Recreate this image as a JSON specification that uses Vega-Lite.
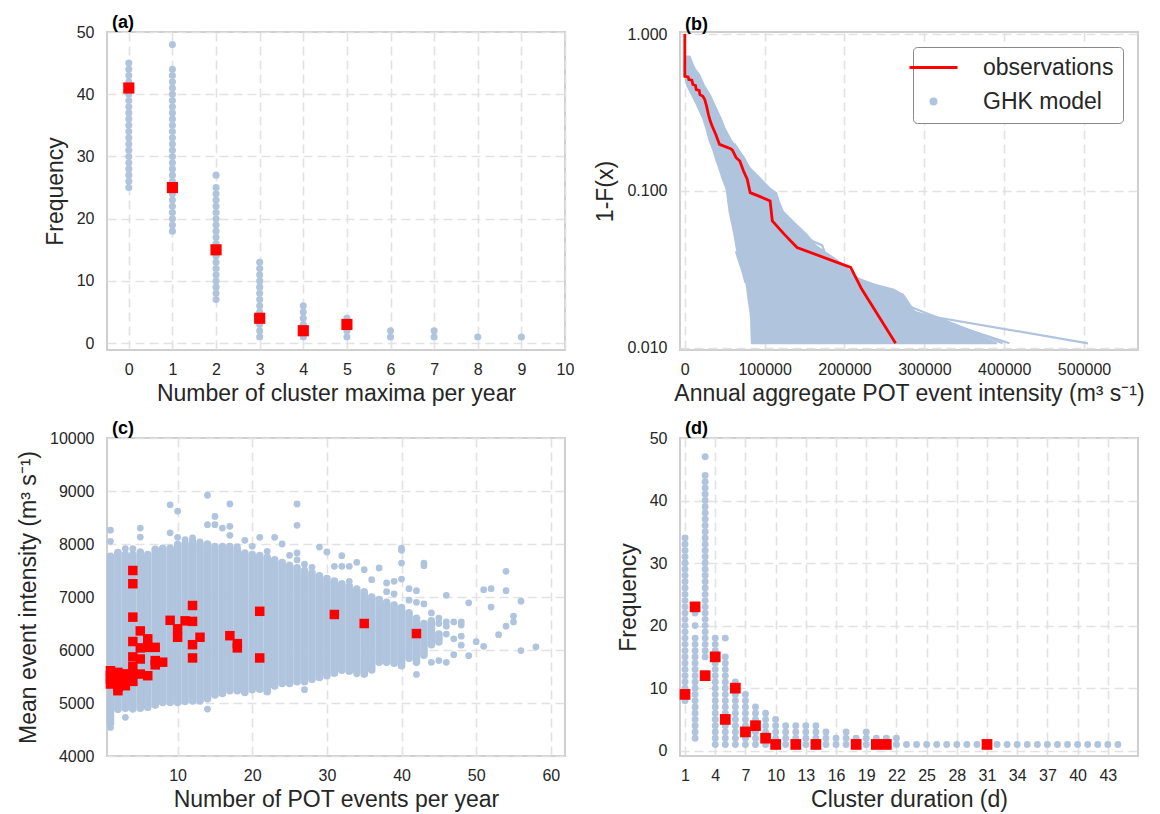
{
"$schema": "https://vega.github.io/schema/vega-lite/v6.json",
"background": "white",
"padding": {"left": 16, "top": 13, "right": 5, "bottom": 5},
"bounds": "flush",
"columns": 2,
"spacing": {"row": 88, "column": 115},
"resolve": {"scale": {"fill": "independent", "stroke": "independent", "shape": "independent"}, "legend": {"fill": "independent", "stroke": "independent", "shape": "independent"}},
"config": {
  "font": "Liberation Sans",
  "view": {"stroke": "#cfcfcf", "strokeWidth": 2},
  "axis": {"grid": true, "gridColor": "#e2e2e2", "gridDash": [9, 5], "gridWidth": 1.6, "domain": false, "ticks": false, "labelFontSize": 16, "labelColor": "#262626", "labelFont": "Liberation Sans", "titleFont": "Liberation Sans", "titleFontSize": 23, "titleFontWeight": "normal", "titleColor": "#262626", "labelFlush": false, "labelOverlap": false},
  "axisX": {"labelPadding": 11, "titlePadding": 5},
  "axisY": {"labelPadding": 13, "titlePadding": 9},
  "title": {"anchor": "start", "frame": "group", "fontSize": 18, "fontWeight": "bold", "color": "#000000", "offset": -8, "dx": 5, "font": "Liberation Sans"},
  "legend": {"orient": "top-right", "offset": 15, "padding": 9, "strokeColor": "#8a8a8a", "fillColor": "#ffffff", "cornerRadius": 4, "labelFontSize": 23, "labelColor": "#262626", "labelFont": "Liberation Sans", "symbolSize": 25, "symbolStrokeWidth": 3, "symbolOpacity": 1, "rowPadding": 10, "labelOffset": 38}
},
"datasets": {
  "a_model": [
    {"x":0,"y":25},{"x":0,"y":26},{"x":0,"y":27},{"x":0,"y":28},{"x":0,"y":29},{"x":0,"y":30},{"x":0,"y":31},{"x":0,"y":32},{"x":0,"y":33},{"x":0,"y":34},{"x":0,"y":35},{"x":0,"y":36},{"x":0,"y":37},{"x":0,"y":38},{"x":0,"y":39},{"x":0,"y":40},{"x":0,"y":41},{"x":0,"y":42},{"x":0,"y":43},{"x":0,"y":44},{"x":0,"y":45},
    {"x":1,"y":18},{"x":1,"y":19},{"x":1,"y":20},{"x":1,"y":21},{"x":1,"y":22},{"x":1,"y":23},{"x":1,"y":24},{"x":1,"y":25},{"x":1,"y":26},{"x":1,"y":27},{"x":1,"y":28},{"x":1,"y":29},{"x":1,"y":30},{"x":1,"y":31},{"x":1,"y":32},{"x":1,"y":33},{"x":1,"y":34},{"x":1,"y":35},{"x":1,"y":36},{"x":1,"y":37},{"x":1,"y":38},{"x":1,"y":39},{"x":1,"y":40},{"x":1,"y":41},{"x":1,"y":42},{"x":1,"y":43},{"x":1,"y":44},{"x":1,"y":48},
    {"x":2,"y":7},{"x":2,"y":8},{"x":2,"y":9},{"x":2,"y":10},{"x":2,"y":11},{"x":2,"y":12},{"x":2,"y":13},{"x":2,"y":14},{"x":2,"y":15},{"x":2,"y":16},{"x":2,"y":17},{"x":2,"y":18},{"x":2,"y":19},{"x":2,"y":20},{"x":2,"y":21},{"x":2,"y":22},{"x":2,"y":23},{"x":2,"y":24},{"x":2,"y":25},{"x":2,"y":27},
    {"x":3,"y":1},{"x":3,"y":2},{"x":3,"y":3},{"x":3,"y":4},{"x":3,"y":5},{"x":3,"y":6},{"x":3,"y":7},{"x":3,"y":8},{"x":3,"y":9},{"x":3,"y":10},{"x":3,"y":11},{"x":3,"y":12},{"x":3,"y":13},
    {"x":4,"y":1},{"x":4,"y":2},{"x":4,"y":3},{"x":4,"y":4},{"x":4,"y":5},{"x":4,"y":6},
    {"x":5,"y":1},{"x":5,"y":2},{"x":5,"y":3},{"x":5,"y":4},
    {"x":6,"y":1},{"x":6,"y":2},{"x":7,"y":1},{"x":7,"y":2},{"x":8,"y":1},{"x":9,"y":1}
  ],
  "a_obs": [{"x":0,"y":41},{"x":1,"y":25},{"x":2,"y":15},{"x":3,"y":4},{"x":4,"y":2},{"x":5,"y":3}],
  "b_env": [
    {"p":0.72,"x":2000,"xr":6000},{"p":0.66,"x":0,"xr":9000},{"p":0.6,"x":0,"xr":12500},{"p":0.55,"x":0,"xr":18000},{"p":0.47,"x":3000,"xr":24000},{"p":0.41,"x":9000,"xr":31250},{"p":0.355,"x":15000,"xr":37000},{"p":0.29,"x":23000,"xr":45000},{"p":0.25,"x":27000,"xr":50000},{"p":0.21,"x":31000,"xr":58000},{"p":0.18,"x":36000,"xr":67000},{"p":0.155,"x":40000,"xr":76000},{"p":0.14,"x":43000,"xr":81250},{"p":0.121,"x":47000,"xr":93750},{"p":0.104,"x":52000,"xr":106250},{"p":0.097,"x":53000,"xr":114580},{"p":0.085,"x":54500,"xr":118000},{"p":0.074,"x":56000,"xr":122920},{"p":0.061,"x":59500,"xr":139580},{"p":0.053,"x":62000,"xr":152080},{"p":0.0445,"x":64500,"xr":164580},{"p":0.041,"x":66000,"xr":175000},{"p":0.034,"x":70000,"xr":197920},{"p":0.028,"x":76000,"xr":214580},{"p":0.0241,"x":78000,"xr":247920},{"p":0.0219,"x":79000,"xr":272920},{"p":0.02,"x":80000,"xr":278000},{"p":0.0171,"x":82000,"xr":285420},{"p":0.0155,"x":83000,"xr":314580},{"p":0.0128,"x":83500,"xr":356250},{"p":0.0107,"x":84000,"xr":390000}
  ],
  "b_lines": [
    {"id":1,"i":0,"x":247920,"p":0.0241},{"id":1,"i":1,"x":272920,"p":0.0219},{"id":1,"i":2,"x":289580,"p":0.0165},{"id":1,"i":3,"x":505000,"p":0.0107},
    {"id":2,"i":0,"x":203000,"p":0.0281},{"id":2,"i":1,"x":262000,"p":0.0235},{"id":2,"i":2,"x":272400,"p":0.0217},{"id":2,"i":3,"x":285000,"p":0.0171},{"id":2,"i":4,"x":406500,"p":0.0107},
    {"id":3,"i":0,"x":214580,"p":0.028},{"id":3,"i":1,"x":258500,"p":0.0169},{"id":3,"i":2,"x":390350,"p":0.0107},
    {"id":4,"i":0,"x":230000,"p":0.026},{"id":4,"i":1,"x":280000,"p":0.0185},{"id":4,"i":2,"x":398000,"p":0.0107},
    {"id":5,"i":0,"x":64000,"p":0.0413},{"id":5,"i":1,"x":67000,"p":0.037},{"id":5,"i":2,"x":72000,"p":0.031},{"id":5,"i":3,"x":76000,"p":0.026},
    {"id":6,"i":0,"x":81000,"p":0.03},{"id":6,"i":1,"x":86000,"p":0.02},{"id":6,"i":2,"x":88000,"p":0.0107},
    {"id":7,"i":0,"x":62000,"p":0.2},{"id":7,"i":1,"x":75000,"p":0.16},{"id":7,"i":2,"x":85000,"p":0.12},{"id":7,"i":3,"x":98000,"p":0.1},{"id":7,"i":4,"x":106000,"p":0.094},{"id":7,"i":5,"x":108000,"p":0.085},
    {"id":8,"i":0,"x":140000,"p":0.056},{"id":8,"i":1,"x":160000,"p":0.048},{"id":8,"i":2,"x":172000,"p":0.045},{"id":8,"i":3,"x":175000,"p":0.041}
  ],
  "b_obs": [
    {"i":0,"x":0,"p":1.0},{"i":1,"x":0,"p":0.538},{"i":2,"x":4160,"p":0.533},{"i":3,"x":5090,"p":0.513},{"i":4,"x":8790,"p":0.508},{"i":5,"x":10180,"p":0.477},{"i":6,"x":13410,"p":0.47},{"i":7,"x":14340,"p":0.443},{"i":8,"x":18040,"p":0.438},{"i":9,"x":18960,"p":0.411},{"i":10,"x":22660,"p":0.401},{"i":11,"x":24980,"p":0.383},{"i":12,"x":27290,"p":0.347},{"i":13,"x":29600,"p":0.307},{"i":14,"x":31910,"p":0.279},{"i":15,"x":34230,"p":0.259},{"i":16,"x":38850,"p":0.229},{"i":17,"x":43480,"p":0.198},{"i":18,"x":57350,"p":0.186},{"i":19,"x":59670,"p":0.182},{"i":20,"x":64290,"p":0.163},{"i":21,"x":68920,"p":0.155},{"i":22,"x":73540,"p":0.134},{"i":23,"x":78170,"p":0.119},{"i":24,"x":81870,"p":0.0976},{"i":25,"x":92040,"p":0.093},{"i":26,"x":106850,"p":0.0864},{"i":27,"x":109620,"p":0.0645},{"i":28,"x":124420,"p":0.0531},{"i":29,"x":140610,"p":0.0436},{"i":30,"x":207680,"p":0.0326},{"i":31,"x":221550,"p":0.0237},{"i":32,"x":264000,"p":0.0107}
  ],
  "b_leg": [{"s":"observations"},{"s":"GHK model"}],
  "c_cols": [
    {"x":1,"y":4620,"yh":7770},{"x":2,"y":4880,"yh":7840},{"x":3,"y":4900,"yh":7800},{"x":4,"y":4890,"yh":7800},{"x":5,"y":4900,"yh":7850},{"x":6,"y":4920,"yh":7800},{"x":7,"y":4960,"yh":7900},{"x":8,"y":5010,"yh":7920},{"x":9,"y":5010,"yh":7920},{"x":10,"y":5010,"yh":7990},{"x":11,"y":5030,"yh":8000},{"x":12,"y":5040,"yh":8050},{"x":13,"y":5040,"yh":8000},{"x":14,"y":5080,"yh":8000},{"x":15,"y":5150,"yh":7950},{"x":16,"y":5180,"yh":7950},{"x":17,"y":5230,"yh":7950},{"x":18,"y":5230,"yh":7900},{"x":19,"y":5200,"yh":7830},{"x":20,"y":5250,"yh":7800},{"x":21,"y":5260,"yh":7780},{"x":22,"y":5213,"yh":7750},{"x":23,"y":5320,"yh":7700},{"x":24,"y":5370,"yh":7650},{"x":25,"y":5370,"yh":7600},{"x":26,"y":5400,"yh":7550},{"x":27,"y":5400,"yh":7500},{"x":28,"y":5450,"yh":7450},{"x":29,"y":5480,"yh":7400},{"x":30,"y":5515,"yh":7350},{"x":31,"y":5560,"yh":7300},{"x":32,"y":5620,"yh":7250},{"x":33,"y":5600,"yh":7200},{"x":34,"y":5600,"yh":7150},{"x":35,"y":5546,"yh":7100},{"x":36,"y":5622,"yh":7000},{"x":37,"y":5767,"yh":6950},{"x":38,"y":5767,"yh":6900},{"x":39,"y":5750,"yh":6850},{"x":40,"y":5704,"yh":6800},{"x":41,"y":5842,"yh":6700},{"x":42,"y":5767,"yh":6600},{"x":43,"y":5900,"yh":6500},{"x":44,"y":6100,"yh":6550},{"x":45,"y":6150,"yh":6300}
  ],
  "c_pts": [
    {"x":1,"y":8260},{"x":1,"y":8050},{"x":5,"y":8300},{"x":5,"y":8130},{"x":9,"y":8740},{"x":10,"y":8620},{"x":9,"y":8210},{"x":14,"y":8920},{"x":15,"y":8520},{"x":14,"y":8365},{"x":15,"y":8365},{"x":16,"y":8300},{"x":17,"y":8755},{"x":17,"y":8333},{"x":17,"y":8163},{"x":19,"y":8069},{"x":18,"y":7950},{"x":21,"y":8126},{"x":23,"y":8126},{"x":24,"y":8000},{"x":26,"y":8755},{"x":26,"y":8352},{"x":10,"y":8126},{"x":12,"y":8113},{"x":11,"y":8082},{"x":13,"y":8038},{"x":3,"y":7912},{"x":4,"y":7912},{"x":2,"y":7843},{"x":20,"y":7956},{"x":22,"y":7861},{"x":25,"y":7786},{"x":26,"y":7830},{"x":26,"y":7700},{"x":29,"y":7943},{"x":30,"y":7849},{"x":32,"y":7780},{"x":40,"y":7924},{"x":40,"y":7880},{"x":40,"y":7641},{"x":43,"y":7641},{"x":43,"y":7590},{"x":31,"y":7578},{"x":32,"y":7578},{"x":33,"y":7578},{"x":34,"y":7654},{"x":35,"y":7515},{"x":37,"y":7547},{"x":36,"y":7327},{"x":38,"y":7264},{"x":39,"y":7295},{"x":40,"y":7339},{"x":41,"y":7157},{"x":42,"y":7119},{"x":46,"y":7031},{"x":51,"y":7138},{"x":52,"y":7157},{"x":54,"y":7484},{"x":54,"y":7119},{"x":49,"y":6890},{"x":52,"y":6810},{"x":43,"y":6870},{"x":56,"y":6920},{"x":55,"y":6640},{"x":55,"y":6530},{"x":54,"y":6450},{"x":53,"y":6290},{"x":51,"y":6070},{"x":50,"y":6157},{"x":58,"y":6060},{"x":56,"y":5990},{"x":49,"y":5892},{"x":48,"y":6530},{"x":48,"y":6470},{"x":48,"y":6260},{"x":48,"y":6090},{"x":47,"y":6530},{"x":47,"y":6210},{"x":47,"y":5911},{"x":46,"y":6530},{"x":46,"y":5767},{"x":46,"y":6300},{"x":45,"y":5800},{"x":44,"y":5767},{"x":42,"y":5540},{"x":42,"y":5960},{"x":35,"y":5546},{"x":34,"y":5550},{"x":31,"y":5640},{"x":27,"y":5251},{"x":22,"y":5213},{"x":19,"y":5200},{"x":14,"y":4886},{"x":3,"y":4730},{"x":1,"y":4540},{"x":2,"y":4886},{"x":4,"y":4886},{"x":6,"y":4917},{"x":39,"y":7060},{"x":41,"y":6940},{"x":38,"y":7100},{"x":42,"y":6900},{"x":44,"y":6700},{"x":45,"y":6500},{"x":45,"y":6600},{"x":46,"y":6450},{"x":44,"y":6480},{"x":45,"y":6300},{"x":33,"y":7295},{"x":28,"y":7560},{"x":27,"y":7620}
  ],
  "c_obs": [
    {"x":4,"y":7500},{"x":4,"y":7250},{"x":4,"y":6620},{"x":12,"y":6840},{"x":21,"y":6730},{"x":9,"y":6560},{"x":11,"y":6550},{"x":12,"y":6540},{"x":10,"y":6400},{"x":10,"y":6240},{"x":13,"y":6240},{"x":12,"y":6100},{"x":12,"y":5850},{"x":17,"y":6270},{"x":18,"y":6120},{"x":18,"y":6040},{"x":21,"y":5850},{"x":31,"y":6670},{"x":35,"y":6500},{"x":42,"y":6310},{"x":4,"y":6160},{"x":5,"y":6360},{"x":6,"y":6210},{"x":6,"y":6050},{"x":5,"y":6040},{"x":4,"y":5870},{"x":5,"y":5830},{"x":7,"y":6050},{"x":7,"y":5800},{"x":7,"y":5720},{"x":8,"y":5770},{"x":4,"y":5685},{"x":5,"y":5546},{"x":6,"y":5515},{"x":4,"y":5546},{"x":1,"y":5515},{"x":1,"y":5358},{"x":2,"y":5578},{"x":2,"y":5421},{"x":2,"y":5232},{"x":3,"y":5452},{"x":3,"y":5326},{"x":4,"y":5408},{"x":1,"y":5609},{"x":3,"y":5550},{"x":1,"y":5450},{"x":2,"y":5300}
  ],
  "d_model": [
    {"x":1,"y":8},{"x":1,"y":9},{"x":1,"y":10},{"x":1,"y":11},{"x":1,"y":12},{"x":1,"y":13},{"x":1,"y":14},{"x":1,"y":15},{"x":1,"y":16},{"x":1,"y":17},{"x":1,"y":18},{"x":1,"y":19},{"x":1,"y":20},{"x":1,"y":21},{"x":1,"y":22},{"x":1,"y":23},{"x":1,"y":24},{"x":1,"y":25},{"x":1,"y":26},{"x":1,"y":27},{"x":1,"y":28},{"x":1,"y":29},{"x":1,"y":30},{"x":1,"y":31},{"x":1,"y":32},{"x":1,"y":33},{"x":1,"y":34},
    {"x":2,"y":2},{"x":2,"y":3},{"x":2,"y":4},{"x":2,"y":5},{"x":2,"y":6},{"x":2,"y":7},{"x":2,"y":8},{"x":2,"y":9},{"x":2,"y":10},{"x":2,"y":11},{"x":2,"y":12},{"x":2,"y":13},{"x":2,"y":14},{"x":2,"y":15},{"x":2,"y":16},{"x":2,"y":17},{"x":2,"y":18},{"x":2,"y":20},{"x":2,"y":22},
    {"x":3,"y":15},{"x":3,"y":16},{"x":3,"y":17},{"x":3,"y":18},{"x":3,"y":19},{"x":3,"y":20},{"x":3,"y":21},{"x":3,"y":22},{"x":3,"y":23},{"x":3,"y":24},{"x":3,"y":25},{"x":3,"y":26},{"x":3,"y":27},{"x":3,"y":28},{"x":3,"y":29},{"x":3,"y":30},{"x":3,"y":31},{"x":3,"y":32},{"x":3,"y":33},{"x":3,"y":34},{"x":3,"y":35},{"x":3,"y":36},{"x":3,"y":37},{"x":3,"y":38},{"x":3,"y":39},{"x":3,"y":40},{"x":3,"y":41},{"x":3,"y":42},{"x":3,"y":43},{"x":3,"y":44},{"x":3,"y":47},
    {"x":4,"y":1},{"x":4,"y":2},{"x":4,"y":3},{"x":4,"y":4},{"x":4,"y":5},{"x":4,"y":6},{"x":4,"y":7},{"x":4,"y":8},{"x":4,"y":9},{"x":4,"y":10},{"x":4,"y":11},{"x":4,"y":12},{"x":4,"y":13},{"x":4,"y":14},{"x":4,"y":15},{"x":4,"y":16},{"x":4,"y":17},{"x":4,"y":18},
    {"x":5,"y":1},{"x":5,"y":2},{"x":5,"y":3},{"x":5,"y":4},{"x":5,"y":5},{"x":5,"y":6},{"x":5,"y":7},{"x":5,"y":8},{"x":5,"y":9},{"x":5,"y":10},{"x":5,"y":11},{"x":5,"y":12},{"x":5,"y":13},{"x":5,"y":14},{"x":5,"y":15},{"x":5,"y":18},
    {"x":6,"y":1},{"x":6,"y":2},{"x":6,"y":3},{"x":6,"y":4},{"x":6,"y":5},{"x":6,"y":6},{"x":6,"y":7},{"x":6,"y":8},{"x":6,"y":9},{"x":6,"y":10},{"x":6,"y":11},
    {"x":7,"y":1},{"x":7,"y":2},{"x":7,"y":3},{"x":7,"y":4},{"x":7,"y":5},{"x":7,"y":6},{"x":7,"y":7},{"x":7,"y":8},{"x":7,"y":9},
    {"x":8,"y":1},{"x":8,"y":2},{"x":8,"y":3},{"x":8,"y":4},{"x":8,"y":5},{"x":8,"y":6},{"x":8,"y":7},
    {"x":9,"y":1},{"x":9,"y":2},{"x":9,"y":3},{"x":9,"y":4},{"x":9,"y":5},{"x":9,"y":6},
    {"x":10,"y":1},{"x":10,"y":2},{"x":10,"y":3},{"x":10,"y":4},{"x":10,"y":5},
    {"x":11,"y":1},{"x":11,"y":2},{"x":11,"y":3},{"x":11,"y":4},
    {"x":12,"y":1},{"x":12,"y":2},{"x":12,"y":3},{"x":12,"y":4},
    {"x":13,"y":1},{"x":13,"y":2},{"x":13,"y":3},{"x":13,"y":4},
    {"x":14,"y":1},{"x":14,"y":2},{"x":14,"y":3},{"x":14,"y":4},
    {"x":15,"y":1},{"x":15,"y":2},{"x":15,"y":3},
    {"x":16,"y":1},{"x":16,"y":2},
    {"x":17,"y":1},{"x":17,"y":2},{"x":17,"y":3},
    {"x":18,"y":1},{"x":18,"y":2},
    {"x":19,"y":1},{"x":19,"y":2},{"x":19,"y":3},
    {"x":20,"y":1},{"x":20,"y":2},
    {"x":21,"y":1},{"x":21,"y":2},
    {"x":22,"y":1},{"x":22,"y":2},
    {"x":23,"y":1},{"x":24,"y":1},{"x":25,"y":1},{"x":26,"y":1},{"x":27,"y":1},{"x":28,"y":1},{"x":29,"y":1},{"x":30,"y":1},{"x":31,"y":1},{"x":32,"y":1},{"x":33,"y":1},{"x":34,"y":1},{"x":35,"y":1},{"x":36,"y":1},{"x":37,"y":1},{"x":38,"y":1},{"x":39,"y":1},{"x":40,"y":1},{"x":41,"y":1},{"x":42,"y":1},{"x":43,"y":1},{"x":44,"y":1}
  ],
  "d_obs": [{"x":1,"y":9},{"x":2,"y":23},{"x":3,"y":12},{"x":4,"y":15},{"x":5,"y":5},{"x":6,"y":10},{"x":7,"y":3},{"x":8,"y":4},{"x":9,"y":2},{"x":10,"y":1},{"x":12,"y":1},{"x":14,"y":1},{"x":18,"y":1},{"x":20,"y":1},{"x":21,"y":1},{"x":31,"y":1}]
},
"concat": [
  {
    "width": 458, "height": 318,
    "title": {"text": "(a)"},
    "encoding": {
      "x": {"field": "x", "type": "quantitative", "scale": {"domain": [-0.5, 10], "nice": false, "zero": false}, "axis": {"values": [0,1,2,3,4,5,6,7,8,9,10], "title": "Number of cluster maxima per year"}},
      "y": {"field": "y", "type": "quantitative", "scale": {"domain": [-1.1, 50], "nice": false, "zero": false}, "axis": {"values": [0,10,20,30,40,50], "title": "Frequency"}}
    },
    "layer": [
      {"data": {"name": "a_model"}, "mark": {"type": "circle", "size": 50, "color": "#b0c4de", "opacity": 1}},
      {"data": {"name": "a_obs"}, "mark": {"type": "square", "size": 125, "color": "#ff0000", "opacity": 1}}
    ]
  },
  {
    "width": 458, "height": 318,
    "title": {"text": "(b)"},
    "encoding": {
      "x": {"field": "x", "type": "quantitative", "scale": {"domain": [-6000, 567600], "nice": false, "zero": false}, "axis": {"values": [0,100000,200000,300000,400000,500000], "format": "d", "title": "Annual aggregate POT event intensity (m³ s⁻¹)"}},
      "y": {"field": "p", "type": "quantitative", "scale": {"type": "log", "domain": [0.0097, 1.03], "nice": false}, "axis": {"values": [0.01, 0.1, 1], "format": ".3f", "title": "1-F(x)"}}
    },
    "layer": [
      {"data": {"name": "b_env"}, "mark": {"type": "area", "orient": "horizontal", "color": "#b0c4de", "opacity": 1, "stroke": "#b0c4de", "strokeWidth": 2, "strokeJoin": "round"}, "encoding": {"x2": {"field": "xr"}}},
      {"data": {"name": "b_lines"}, "mark": {"type": "line", "color": "#b0c4de", "strokeWidth": 2.2}, "encoding": {"detail": {"field": "id", "type": "nominal"}, "order": {"field": "i", "type": "quantitative"}}},
      {"data": {"name": "b_obs"}, "mark": {"type": "line", "color": "#ff0000", "strokeWidth": 2.8}, "encoding": {"order": {"field": "i", "type": "quantitative"}}},
      {"data": {"name": "b_leg"}, "transform": [{"filter": "false"}], "mark": {"type": "point", "filled": true, "opacity": 1},
       "encoding": {
         "fill": {"field": "s", "type": "nominal", "title": null, "scale": {"domain": ["observations", "GHK model"], "range": ["#ff0000", "#b0c4de"]}},
         "stroke": {"field": "s", "type": "nominal", "title": null, "scale": {"domain": ["observations", "GHK model"], "range": ["#ff0000", "#b0c4de"]}},
         "shape": {"field": "s", "type": "nominal", "title": null, "scale": {"domain": ["observations", "GHK model"], "range": ["M-9.6,0L9.6,0", "circle"]}}
       }}
    ]
  },
  {
    "width": 458, "height": 318,
    "title": {"text": "(c)"},
    "encoding": {
      "x": {"field": "x", "type": "quantitative", "scale": {"domain": [0.54, 61.9], "nice": false, "zero": false}, "axis": {"values": [10,20,30,40,50,60], "title": "Number of POT events per year"}},
      "y": {"field": "y", "type": "quantitative", "scale": {"domain": [4000, 10000], "nice": false, "zero": false}, "axis": {"values": [4000,5000,6000,7000,8000,9000,10000], "format": "d", "title": "Mean event intensity (m³ s⁻¹)"}}
    },
    "layer": [
      {"data": {"name": "c_cols"}, "mark": {"type": "rule", "color": "#b0c4de", "strokeWidth": 7.6, "strokeCap": "round", "opacity": 1}, "encoding": {"y2": {"field": "yh"}}},
      {"data": {"name": "c_pts"}, "mark": {"type": "circle", "size": 46, "color": "#b0c4de", "opacity": 1}},
      {"data": {"name": "c_obs"}, "mark": {"type": "square", "size": 90, "color": "#ff0000", "opacity": 1}}
    ]
  },
  {
    "width": 458, "height": 318,
    "title": {"text": "(d)"},
    "encoding": {
      "x": {"field": "x", "type": "quantitative", "scale": {"domain": [0.5, 46], "nice": false, "zero": false}, "axis": {"values": [1,4,7,10,13,16,19,22,25,28,31,34,37,40,43], "title": "Cluster duration (d)"}},
      "y": {"field": "y", "type": "quantitative", "scale": {"domain": [-0.85, 50], "nice": false, "zero": false}, "axis": {"values": [0,10,20,30,40,50], "title": "Frequency"}}
    },
    "layer": [
      {"data": {"name": "d_model"}, "mark": {"type": "circle", "size": 48, "color": "#b0c4de", "opacity": 1}},
      {"data": {"name": "d_obs"}, "mark": {"type": "square", "size": 115, "color": "#ff0000", "opacity": 1}}
    ]
  }
]
}
